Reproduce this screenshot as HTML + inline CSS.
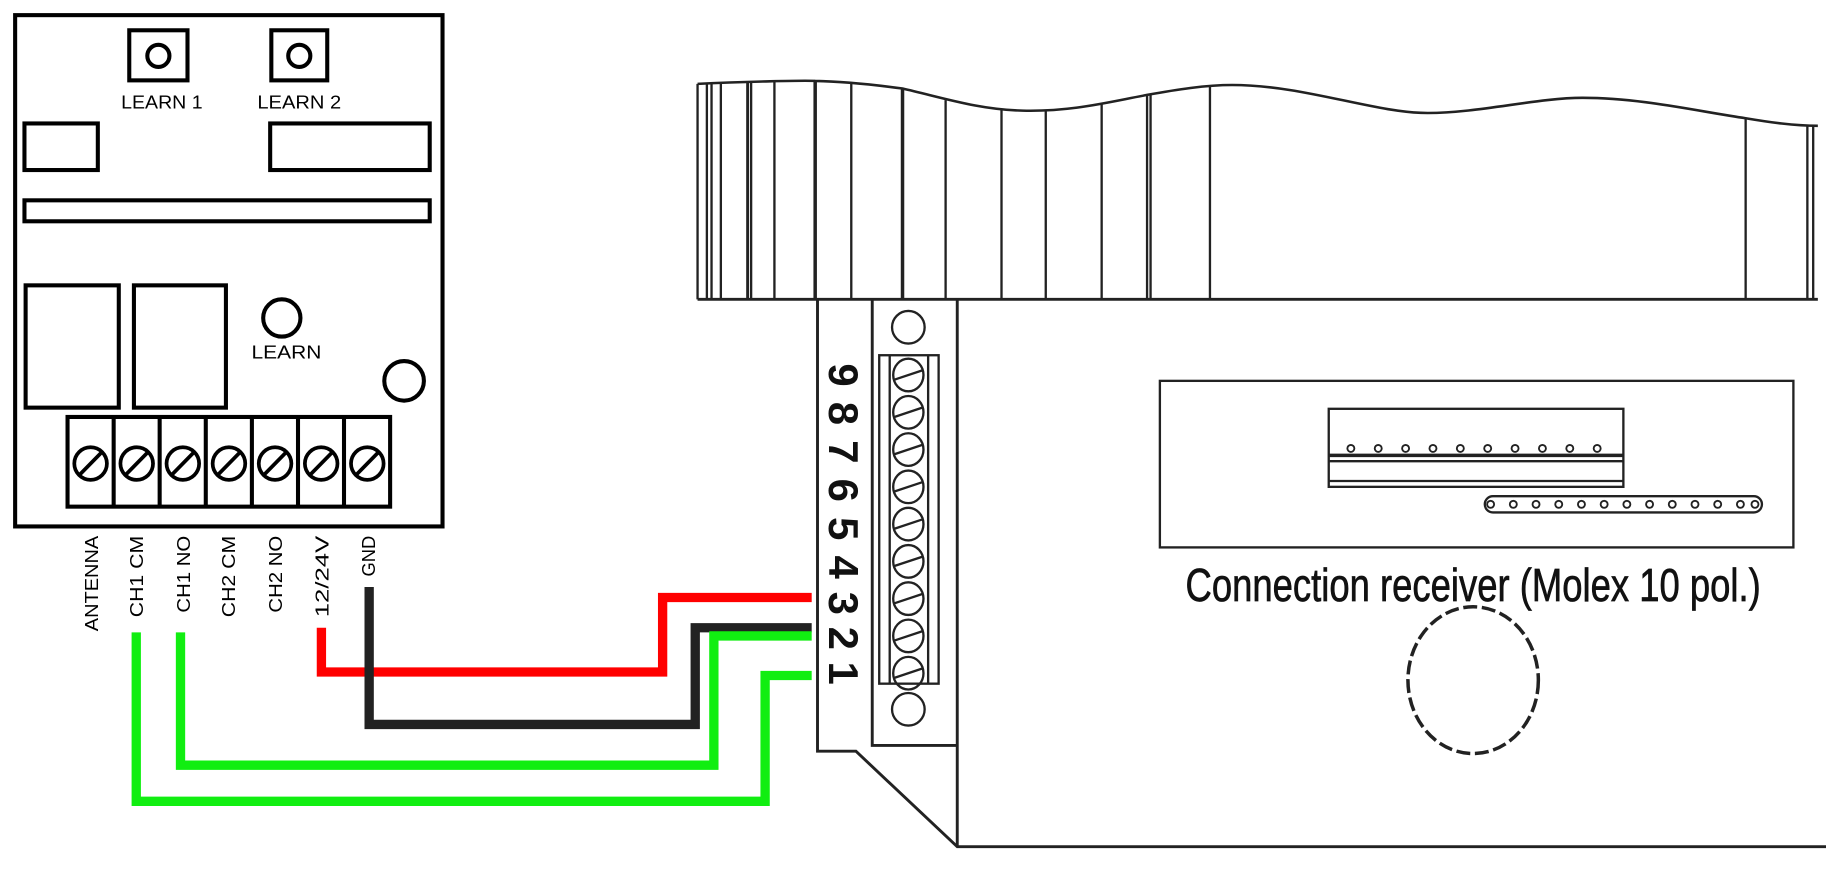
<!DOCTYPE html>
<html><head><meta charset="utf-8">
<style>html,body{margin:0;padding:0;background:#fff;width:1826px;height:884px;overflow:hidden}svg{display:block}</style>
</head><body>
<svg width="1826" height="884" viewBox="0 0 1568 759" preserveAspectRatio="none" xmlns="http://www.w3.org/2000/svg">
<rect width="1568" height="759" fill="#fff"/>
<g fill="none" stroke="#000" stroke-width="3.5">
<rect x="13" y="13" width="367" height="439"/>
<rect x="111" y="26" width="50" height="43"/>
<circle cx="136" cy="48" r="9.5"/>
<rect x="233" y="26" width="48" height="43"/>
<circle cx="257" cy="48" r="9.5"/>
<rect x="21" y="106" width="63" height="40"/>
<rect x="232" y="106" width="137" height="40"/>
<rect x="21" y="172" width="348" height="18"/>
<rect x="22" y="245" width="80" height="105"/>
<rect x="115" y="245" width="79" height="105"/>
<circle cx="242" cy="273" r="16"/>
<circle cx="347" cy="327" r="17"/>
<rect x="58" y="358" width="277" height="77"/>
<line x1="97.6" y1="358" x2="97.6" y2="435"/>
<line x1="137.1" y1="358" x2="137.1" y2="435"/>
<line x1="176.7" y1="358" x2="176.7" y2="435"/>
<line x1="216.3" y1="358" x2="216.3" y2="435"/>
<line x1="255.9" y1="358" x2="255.9" y2="435"/>
<line x1="295.4" y1="358" x2="295.4" y2="435"/>
</g>
<g fill="none" stroke="#000" stroke-width="3.2">
<g id="s"><circle cx="77.8" cy="398" r="14"/><line x1="68" y1="408" x2="87.6" y2="388"/></g>
<use href="#s" x="39.6"/><use href="#s" x="79.2"/><use href="#s" x="118.8"/><use href="#s" x="158.4"/><use href="#s" x="198"/><use href="#s" x="237.6"/>
</g>
<g font-family="Liberation Sans, sans-serif" font-size="16" fill="#000" text-anchor="middle">
<text x="139" y="93" textLength="70" lengthAdjust="spacingAndGlyphs">LEARN 1</text>
<text x="257" y="93" textLength="72" lengthAdjust="spacingAndGlyphs">LEARN 2</text>
<text x="246" y="308" textLength="60" lengthAdjust="spacingAndGlyphs">LEARN</text>
</g>
<g font-family="Liberation Sans, sans-serif" font-size="16" fill="#000" text-anchor="end">
<text transform="translate(84,460) rotate(-90)" textLength="82" lengthAdjust="spacingAndGlyphs">ANTENNA</text>
<text transform="translate(123,460) rotate(-90)" textLength="70" lengthAdjust="spacingAndGlyphs">CH1 CM</text>
<text transform="translate(163,460) rotate(-90)" textLength="66" lengthAdjust="spacingAndGlyphs">CH1 NO</text>
<text transform="translate(202,460) rotate(-90)" textLength="70" lengthAdjust="spacingAndGlyphs">CH2 CM</text>
<text transform="translate(242,460) rotate(-90)" textLength="66" lengthAdjust="spacingAndGlyphs">CH2 NO</text>
<text transform="translate(282,460) rotate(-90)" textLength="70" lengthAdjust="spacingAndGlyphs">12/24V</text>
<text transform="translate(322,460) rotate(-90)" textLength="35" lengthAdjust="spacingAndGlyphs">GND</text>
</g>
<!-- wires -->
<g fill="none" stroke-width="8" stroke-linejoin="miter">
<polyline stroke="#ff0000" points="276,539 276,577 569,577 569,513 697,513"/>
<polyline stroke="#222" points="317,504 317,622 597,622 597,539 697,539"/>
<polyline stroke="#11ee11" points="155,543 155,657 613,657 613,546 697,546"/>
<polyline stroke="#11ee11" points="117,543 117,688 657,688 657,580 697,580"/>
</g>
<!-- right device -->
<g fill="none" stroke="#222" stroke-width="2">
<path d="M599,72 C640,70 690,69 700,69.5 C730,70 760,74 775,76 C810,84 840,94 878,95 C920,96 950,88 985,81.5 C1010,77 1035,73 1058,73 C1120,73 1180,97 1226,97 C1270,97 1320,84 1359,84 C1410,84 1460,96 1499,101.5 C1520,105 1540,108 1561,108" stroke-width="2.2"/>
<line x1="599" y1="257" x2="1561" y2="257" stroke-width="2.5"/>
<line x1="599" y1="72" x2="599" y2="257"/>
<line x1="607" y1="72" x2="607" y2="257"/>
<line x1="611" y1="72" x2="611" y2="257"/>
<line x1="619" y1="72" x2="619" y2="257"/>
<line x1="642" y1="71" x2="642" y2="257" stroke-width="2.5"/>
<line x1="645" y1="71" x2="645" y2="257"/>
<line x1="665" y1="70" x2="665" y2="257"/>
<line x1="700" y1="70" x2="700" y2="257" stroke-width="3"/>
<line x1="731" y1="71" x2="731" y2="257"/>
<line x1="775" y1="76" x2="775" y2="257" stroke-width="3"/>
<line x1="812" y1="86" x2="812" y2="257"/>
<line x1="860" y1="94" x2="860" y2="257"/>
<line x1="898" y1="95" x2="898" y2="257"/>
<line x1="946" y1="89" x2="946" y2="257"/>
<line x1="985" y1="82" x2="985" y2="257"/>
<line x1="988" y1="81" x2="988" y2="257"/>
<line x1="1039" y1="74" x2="1039" y2="257"/>
<line x1="1499" y1="101" x2="1499" y2="257"/>
<line x1="1552" y1="107" x2="1552" y2="257"/>
<line x1="1557" y1="108" x2="1557" y2="257"/>
<polyline points="702,257 702,645 735,645 822,727 1568,727" stroke-width="2.5"/>
<polyline points="749,257 749,640 822,640" stroke-width="2.5"/>
<line x1="822" y1="257" x2="822" y2="727" stroke-width="2.5"/>
<circle cx="780" cy="281" r="14"/>
<circle cx="780" cy="609" r="14"/>
<rect x="755" y="305" width="51" height="282"/>
<line x1="764" y1="305" x2="764" y2="587"/>
<line x1="797" y1="305" x2="797" y2="587"/>
<g id="rs"><ellipse cx="780" cy="322" rx="13" ry="14"/><line x1="768" y1="326" x2="792" y2="318"/></g>
<use href="#rs" y="32"/><use href="#rs" y="64"/><use href="#rs" y="96"/><use href="#rs" y="128"/><use href="#rs" y="160"/><use href="#rs" y="192"/><use href="#rs" y="224"/><use href="#rs" y="256"/>
<rect x="996" y="327" width="544" height="143"/>
<rect x="1141" y="351" width="253" height="67"/>
<line x1="1141" y1="391" x2="1394" y2="391" stroke-width="3"/>
<line x1="1141" y1="396" x2="1394" y2="396"/>
<line x1="1141" y1="413" x2="1394" y2="413"/>
<rect x="1275" y="426" width="238" height="14" rx="7"/>
<ellipse cx="1265" cy="584" rx="56" ry="63" stroke-width="3" stroke-dasharray="12,4"/>
</g>
<g fill="none" stroke="#222" stroke-width="1.6">
<circle cx="1160" cy="385" r="3"/><circle cx="1183.5" cy="385" r="3"/><circle cx="1207" cy="385" r="3"/><circle cx="1230.5" cy="385" r="3"/><circle cx="1254" cy="385" r="3"/><circle cx="1277.5" cy="385" r="3"/><circle cx="1301" cy="385" r="3"/><circle cx="1324.5" cy="385" r="3"/><circle cx="1348" cy="385" r="3"/><circle cx="1371.5" cy="385" r="3"/>
<circle cx="1280" cy="433" r="3"/><circle cx="1299.5" cy="433" r="3"/><circle cx="1319" cy="433" r="3"/><circle cx="1338.5" cy="433" r="3"/><circle cx="1358" cy="433" r="3"/><circle cx="1377.5" cy="433" r="3"/><circle cx="1397" cy="433" r="3"/><circle cx="1416.5" cy="433" r="3"/><circle cx="1436" cy="433" r="3"/><circle cx="1455.5" cy="433" r="3"/><circle cx="1475" cy="433" r="3"/><circle cx="1494.5" cy="433" r="3"/><circle cx="1507" cy="433" r="3"/>
</g>
<g font-family="Liberation Sans, sans-serif" font-size="36" font-weight="bold" fill="#111" text-anchor="middle">
<text transform="translate(712,322) rotate(90)">9</text>
<text transform="translate(712,355) rotate(90)">8</text>
<text transform="translate(712,388) rotate(90)">7</text>
<text transform="translate(712,421) rotate(90)">6</text>
<text transform="translate(712,454) rotate(90)">5</text>
<text transform="translate(712,487) rotate(90)">4</text>
<text transform="translate(712,518) rotate(90)">3</text>
<text transform="translate(712,548) rotate(90)">2</text>
<text transform="translate(712,578) rotate(90)">1</text>
</g>
<text x="1018" y="516" font-family="Liberation Sans Narrow, Liberation Sans, sans-serif" font-size="40" fill="#111" stroke="#111" stroke-width="0.6" textLength="494" lengthAdjust="spacingAndGlyphs">Connection receiver (Molex 10 pol.)</text>
</svg>
</body></html>
